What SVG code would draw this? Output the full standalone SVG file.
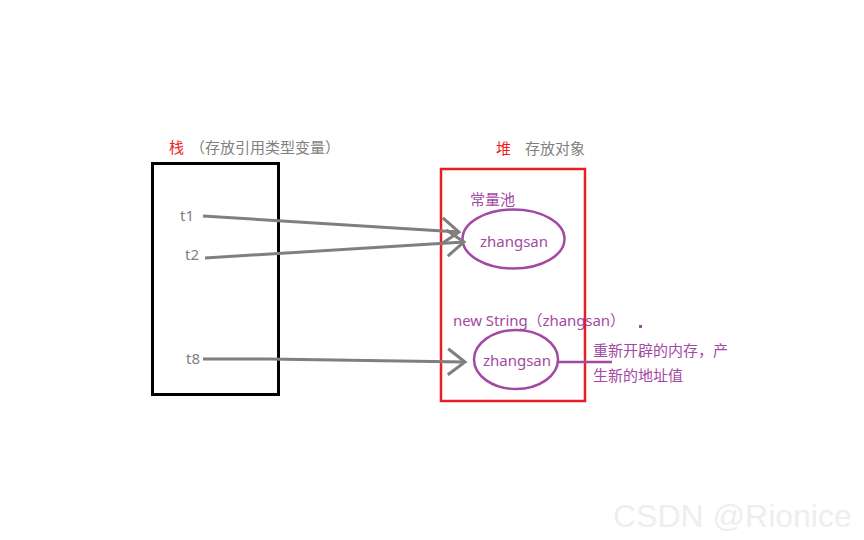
<svg xmlns="http://www.w3.org/2000/svg" width="864" height="540" viewBox="0 0 864 540">
<defs>
<style>
.t{font-family:"Noto Sans","Noto Sans CJK SC",sans-serif;font-size:15px}
.g{fill:#7f7f7f}
.p{fill:#a349a4}
.r{fill:#ed1c24}
.conn{stroke:#7f7f7f;stroke-width:3;fill:none}
.wm{font-family:"Liberation Sans",Arial,sans-serif;font-size:32px;fill:#eeeeee}
</style>
<marker id="arr" markerUnits="userSpaceOnUse" viewBox="-20 -16 24 32" markerWidth="24" markerHeight="32" refX="0" refY="0" orient="auto">
<path d="M-17,-13 L0,0 L-17,13" fill="none" stroke="#7f7f7f" stroke-width="3"/>
</marker>
</defs>
<rect width="864" height="540" fill="#ffffff"/>

<g id="stack">
<rect x="152.5" y="163.5" width="126" height="231" fill="none" stroke="#000000" stroke-width="3"/>
<text class="t r" x="169" y="153">栈</text>
<text class="t g" x="190" y="153" textLength="150" lengthAdjust="spacing">（存放引用类型变量）</text>
<text class="t g" x="180" y="221">t1</text>
<text class="t g" x="185" y="260">t2</text>
<text class="t g" x="186" y="364">t8</text>
</g>

<g id="heap">
<rect x="441" y="169" width="144" height="232" fill="none" stroke="#ed1c24" stroke-width="2.5"/>
<text class="t r" x="496" y="154">堆</text>
<text class="t g" x="525" y="154">存放对象</text>
</g>

<g id="pool">
<text class="t p" x="470" y="205">常量池</text>
<ellipse cx="513.5" cy="239" rx="51" ry="29.5" fill="none" stroke="#a349a4" stroke-width="2.5"/>
<text class="t p" x="514" y="247" text-anchor="middle">zhangsan</text>
</g>

<g id="newobj">
<text class="t p" x="453" y="326" textLength="172" lengthAdjust="spacing">new String（zhangsan）</text>
<ellipse cx="516" cy="359.5" rx="42" ry="29.5" fill="none" stroke="#a349a4" stroke-width="2.5"/>
<text class="t p" x="517" y="366" text-anchor="middle">zhangsan</text>
<rect x="639" y="325" width="3" height="3" fill="#a349a4"/>
</g>

<g id="note">
<line x1="558" y1="362" x2="612" y2="362" stroke="#a349a4" stroke-width="2.5"/>
<text class="t p" x="593" y="356">重新开辟的内存，产</text>
<text class="t p" x="593" y="381">生新的地址值</text>
</g>

<g id="connectors">
<line class="conn" x1="203" y1="216" x2="459" y2="232" marker-end="url(#arr)"/>
<line class="conn" x1="205" y1="258" x2="464" y2="242" marker-end="url(#arr)"/>
<polyline class="conn" points="203,359 268,359 400,361 465,362" marker-end="url(#arr)"/>
</g>

<text class="wm" x="613" y="527">CSDN @Rionice</text>
</svg>
